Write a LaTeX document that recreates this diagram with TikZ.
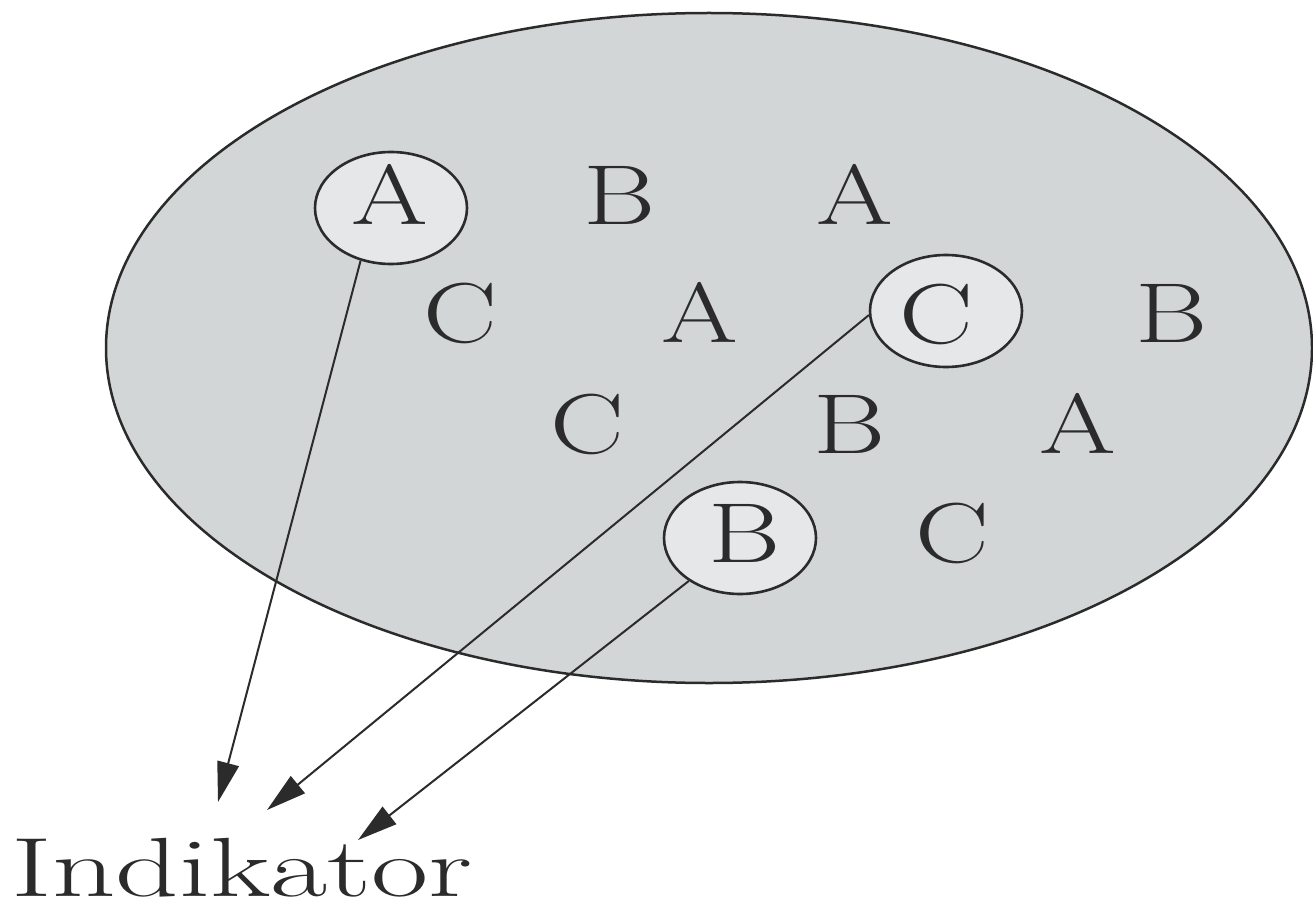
\documentclass[tikz,border=0pt]{standalone}
\usetikzlibrary{shapes.geometric,arrows.meta}
\definecolor{bigfill}{HTML}{D3D6D7}
\definecolor{ringfill}{HTML}{E6E7E9}
\definecolor{ink}{HTML}{2B2B2B}
\tikzset{
  bigset/.style={ellipse, draw=ink, line width=2.5pt, fill=bigfill, minimum width=1206pt, minimum height=670pt, inner sep=0pt},
  ring/.style={ellipse, draw=ink, line width=2.6pt, fill=ringfill, minimum width=152pt, minimum height=112pt, inner sep=0pt},
  letter/.style={anchor=base, inner sep=0pt, text=ink, font=\fontsize{85}{90}\selectfont, xscale=1.3},
  label/.style={anchor=base, inner ysep=0pt, inner xsep=-8pt, text=ink, font=\fontsize{84}{90}\selectfont, xscale=1.48},
  ptr/.style={draw=ink, line width=2pt, -{Triangle[length=40pt,width=22pt]}}
}
\begin{document}
\begin{tikzpicture}[x=1pt,y=-1pt]
\useasboundingbox[fill=white] (0,0) rectangle (1313,909);
\node[bigset] (set) at (709,348) {};
% rings
\node[ring] (A1) at (391,208) {};
\node[ring] (C1) at (946,311) {};
\node[ring] (B1) at (740,538) {};
% letters row 1
\node[letter] (lA1) at (390,225) {A};
\node[letter] (lB2) at (620,225) {B};
\node[letter] (lA3) at (855,225) {A};
% row 2
\node[letter] (lC4) at (460,342) {C};
\node[letter] (lA5) at (700,342) {A};
\node[letter] (lC6) at (936,343) {C};
\node[letter] (lB7) at (1172,342) {B};
% row 3
\node[letter] (lC8) at (587,453) {C};
\node[letter] (lB9) at (850,453) {B};
\node[letter] (lA10) at (1078,453) {A};
% row 4
\node[letter] (lB11) at (745,562) {B};
\node[letter] (lC12) at (952,562) {C};
% label
\node[label] (ind) at (242,896) {Indikator};
% arrow tips
\coordinate (t1) at (218,802);
\coordinate (t2) at (267,810);
\coordinate (t3) at (358,840);
\draw[ptr] (A1.240) -- (t1);
\draw[ptr] (C1.183) -- (t2);
\draw[ptr] (B1.220) -- (t3);
\end{tikzpicture}
\end{document}
